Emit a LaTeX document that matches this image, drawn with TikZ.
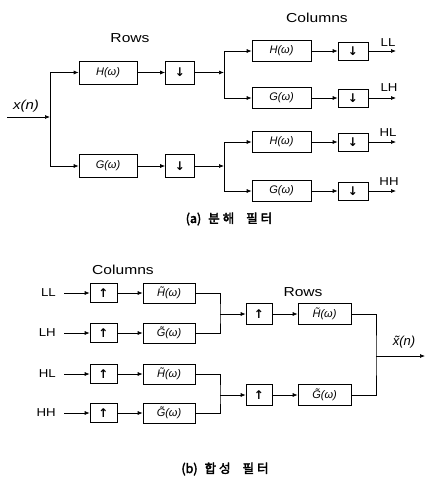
\documentclass[tikz,border=0pt]{standalone}
\usepackage{fontspec}
\usepackage{graphicx}
\setmainfont{Liberation Sans}
\newfontfamily\dvfont{DejaVu Sans}
\newfontfamily\krfont{Noto Sans CJK KR}[AutoFakeBold=3]
\usetikzlibrary{arrows.meta}
\newcommand\dnarr{{\dvfont\bfseries\fontsize{12}{13}\selectfont ↓}}
\newcommand\uparr{{\dvfont\bfseries\fontsize{12}{13}\selectfont ↑}}
\newcommand\fl[1]{{\fontsize{11}{12}\selectfont\itshape #1}}
\newcommand\bigtxt[1]{\scalebox{1.2}[1]{\fontsize{13}{14}\selectfont #1}}
\newcommand\lbl[1]{\scalebox{1.15}[1]{\fontsize{11.5}{12}\selectfont #1}}
\begin{document}
\begin{tikzpicture}[x=1pt,y=-1pt,
  blk/.style={draw, line width=0.6pt, minimum width=#1, minimum height=21pt, inner sep=0pt},
  arr/.style={-{Latex[length=5pt,width=4pt]}, line width=0.7pt},
  ln/.style={line width=0.7pt},
  txt/.style={inner sep=0pt}]
\useasboundingbox (0,0) rectangle (426,479);
% ---------- (a) analysis ----------
\node[txt] (rowsA) at (130,38) {\bigtxt{Rows}};
\node[txt] (colsA) at (317,18) {\bigtxt{Columns}};
\node[txt] (xn) at (26,106) {\scalebox{1.15}[1]{\fontsize{13}{14}\selectfont\itshape x(n)}};
\coordinate (in) at (7,117);
\coordinate (s0) at (50,117);
\node[blk=58pt, minimum height=23pt] (h1) at (108,72.5) {\fl{H(ω)}};
\node[blk=29pt, minimum height=23pt] (d1) at (180,72.5) {\dnarr};
\node[blk=58pt, minimum height=23pt] (g1) at (108,166) {\fl{G(ω)}};
\node[blk=29pt, minimum height=23pt] (d2) at (180,166) {\dnarr};
\coordinate (j1) at (224,72.5);
\coordinate (j2) at (224,166);
\node[blk=59pt] (ch1) at (281.5,51) {\fl{H(ω)}};
\node[blk=30pt, minimum height=18pt] (cd1) at (353,51) {\dnarr};
\node[blk=59pt] (cg1) at (281.5,98) {\fl{G(ω)}};
\node[blk=30pt, minimum height=18pt] (cd2) at (353,98) {\dnarr};
\node[blk=59pt] (ch2) at (281.5,142) {\fl{H(ω)}};
\node[blk=30pt, minimum height=18pt] (cd3) at (353,142) {\dnarr};
\node[blk=59pt] (cg2) at (281.5,191) {\fl{G(ω)}};
\node[blk=30pt, minimum height=18pt] (cd4) at (353,191) {\dnarr};
\coordinate (o1) at (396,51);
\coordinate (o2) at (396,98);
\coordinate (o3) at (396,142);
\coordinate (o4) at (396,191);
\node[txt] (lLL) at (388,43) {\lbl{LL}};
\node[txt] (lLH) at (389,88) {\lbl{LH}};
\node[txt] (lHL) at (388,133) {\lbl{HL}};
\node[txt] (lHH) at (389,182) {\lbl{HH}};
\draw[arr] (in) -- (s0);
\draw[arr] (s0) |- (h1.west);
\draw[arr] (s0) |- (g1.west);
\draw[arr] (h1) -- (d1);
\draw[arr] (g1) -- (d2);
\draw[arr] (d1) -- (j1);
\draw[arr] (d2) -- (j2);
\draw[arr] (j1) |- (ch1.west);
\draw[arr] (j1) |- (cg1.west);
\draw[arr] (j2) |- (ch2.west);
\draw[arr] (j2) |- (cg2.west);
\draw[arr] (ch1) -- (cd1);
\draw[arr] (cg1) -- (cd2);
\draw[arr] (ch2) -- (cd3);
\draw[arr] (cg2) -- (cd4);
\draw[arr] (cd1) -- (o1);
\draw[arr] (cd2) -- (o2);
\draw[arr] (cd3) -- (o3);
\draw[arr] (cd4) -- (o4);
\node[txt] (capA) at (229,219) {\krfont\bfseries\fontsize{12.5}{13}\selectfont (a)\hspace{7pt}분\hspace{3pt}해\hspace{12pt}필\hspace{3pt}터};
% ---------- (b) synthesis ----------
\node[txt] (colsB) at (123,270) {\bigtxt{Columns}};
\node[txt] (rowsB) at (303,292) {\bigtxt{Rows}};
\node[txt, anchor=east] (iLL) at (56,293) {\lbl{LL}};
\node[txt, anchor=east] (iLH) at (56,333) {\lbl{LH}};
\node[txt, anchor=east] (iHL) at (56,374) {\lbl{HL}};
\node[txt, anchor=east] (iHH) at (56,413) {\lbl{HH}};
\coordinate (a1) at (64,293);
\coordinate (a2) at (64,333);
\coordinate (a3) at (64,374);
\coordinate (a4) at (64,413);
\node[blk=27pt, minimum height=19pt] (u1) at (103.5,293) {\uparr};
\node[blk=27pt, minimum height=19pt] (u2) at (103.5,333) {\uparr};
\node[blk=27pt, minimum height=19pt] (u3) at (103.5,374) {\uparr};
\node[blk=27pt, minimum height=19pt] (u4) at (103.5,413) {\uparr};
\node[blk=52pt, minimum height=20pt] (t1) at (169,293) {\fl{H̃(ω)}};
\node[blk=52pt, minimum height=20pt] (t2) at (169,333) {\fl{G̃(ω)}};
\node[blk=52pt, minimum height=20pt] (t3) at (169,374) {\fl{H̃(ω)}};
\node[blk=52pt, minimum height=20pt] (t4) at (169,413) {\fl{G̃(ω)}};
\draw[arr] (a1) -- (u1);
\draw[arr] (a2) -- (u2);
\draw[arr] (a3) -- (u3);
\draw[arr] (a4) -- (u4);
\draw[arr] (u1) -- (t1);
\draw[arr] (u2) -- (t2);
\draw[arr] (u3) -- (t3);
\draw[arr] (u4) -- (t4);
\coordinate (k1) at (220,314);
\coordinate (k2) at (220,395);
\draw[ln] (t1.east) -| (k1) |- (t2.east);
\draw[ln] (t3.east) -| (k2) |- (t4.east);
\node[blk=26pt, minimum height=21pt] (u5) at (259,314) {\uparr};
\node[blk=26pt, minimum height=21pt] (u6) at (259,395) {\uparr};
\node[blk=53pt] (f1) at (324.5,314) {\fl{H̃(ω)}};
\node[blk=53pt] (f2) at (324.5,395) {\fl{G̃(ω)}};
\draw[arr] (k1) -- (u5);
\draw[arr] (k2) -- (u6);
\draw[arr] (u5) -- (f1);
\draw[arr] (u6) -- (f2);
\coordinate (m) at (376,356);
\coordinate (out) at (425,356);
\draw[ln] (f1.east) -| (m) |- (f2.east);
\draw[arr] (m) -- (out);
\node[txt] (xt) at (404,342) {\fontsize{13}{14}\selectfont\itshape x̃(n)};
\node[txt] (capB) at (225,469) {\krfont\bfseries\fontsize{12.5}{13}\selectfont (b)\hspace{7pt}합\hspace{3pt}성\hspace{12pt}필\hspace{3pt}터};
\end{tikzpicture}
\end{document}
